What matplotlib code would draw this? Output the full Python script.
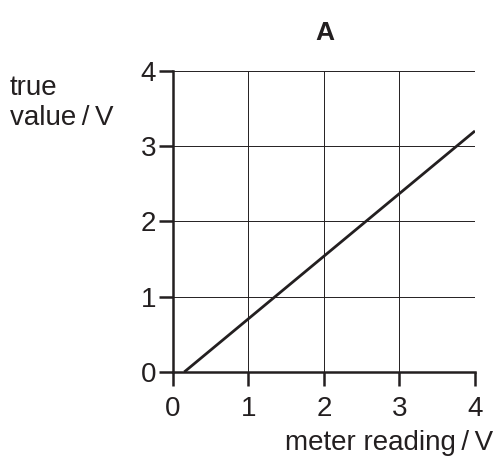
import matplotlib
matplotlib.use("Agg")
import matplotlib.pyplot as plt

plt.rcParams['font.family'] = ['Liberation Sans', 'DejaVu Sans']

# line end points
meter_reading = [0.15, 4.0]
true_value = [0.0, 3.2]
ticks = [0, 1, 2, 3, 4]

fig = plt.figure(figsize=(4.94, 4.65), dpi=100)
ax = fig.add_axes([0.350, 0.200, 0.6115, 0.648])

ax.plot(meter_reading, true_value, color='#231f20', lw=2.0, solid_capstyle='butt', zorder=3)

ax.set_xlim(0, 4)
ax.set_ylim(0, 4)
ax.set_xticks(ticks)
ax.set_yticks(ticks)
ax.grid(True, color='#231f20', lw=0.7)
ax.set_axisbelow(True)

for s in ['top', 'right']:
    ax.spines[s].set_visible(False)
for s in ['left', 'bottom']:
    ax.spines[s].set_linewidth(1.8)
    ax.spines[s].set_color('#231f20')
    ax.spines[s].set_zorder(4)

ax.tick_params(axis='both', direction='out', length=10, width=1.8, color='#231f20',
               labelsize=20, labelcolor='#231f20')
ax.tick_params(axis='x', pad=7)
ax.tick_params(axis='y', pad=2)

fig.text(0.658, 0.93, 'A', fontsize=19, fontweight='bold', ha='center', va='center', color='#231f20')
fig.text(0.02, 0.779, 'true\nvalue\u2009/\u2009V', fontsize=20, ha='left', va='center',
         linespacing=1.2, color='#231f20')
fig.text(0.998, 0.047, 'meter reading\u2009/\u2009V', fontsize=20, ha='right', va='center', color='#231f20')

fig.savefig('out.png', dpi=100)
